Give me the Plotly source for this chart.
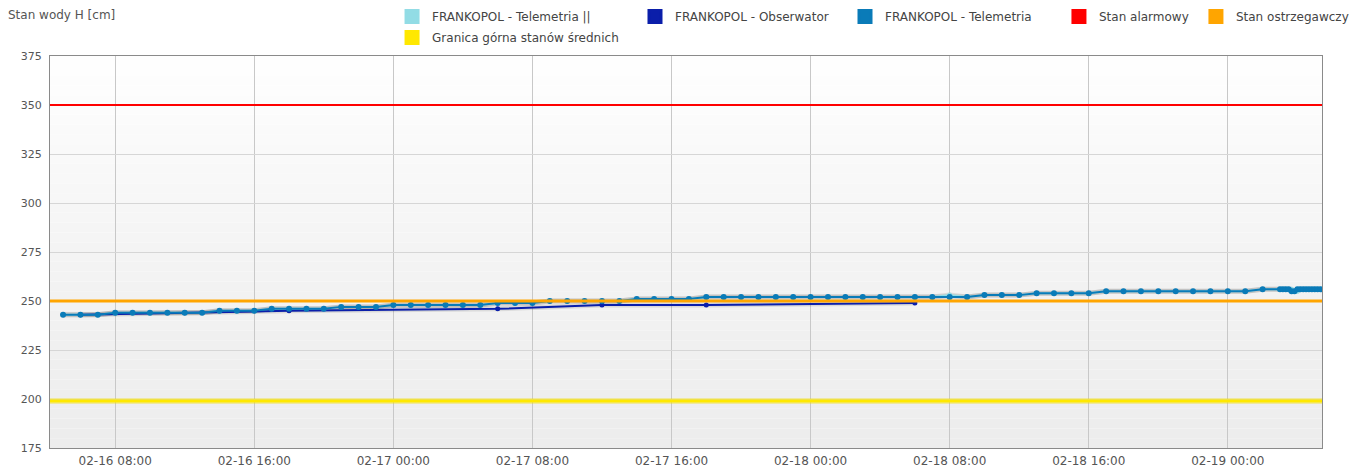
import plotly.graph_objects as go
import pandas as pd

# ---------------- data ----------------
tele_start = "2024-02-16 05:00"
tele_hourly = [243, 243, 243,                      # 05-07
               244, 244, 244, 244, 244, 244,        # 08-13
               245, 245, 245,                       # 14-16
               246, 246, 246, 246,                  # 17-20
               247, 247, 247,                       # 21-23
               248, 248, 248, 248, 248, 248,        # 02-17 00-05
               249, 249, 249,                       # 06-08
               250, 250, 250, 250, 250,             # 09-13
               251, 251, 251, 251,                  # 14-17
               252, 252, 252, 252, 252, 252,        # 18-23
               252, 252, 252, 252, 252, 252, 252,   # 02-18 00-06
               252, 252, 252,                       # 07-09
               253, 253, 253,                       # 10-12
               254, 254, 254, 254,                  # 13-16
               255, 255, 255, 255, 255, 255, 255,   # 17-23
               255, 255,                            # 02-19 00-01
               256, 256]                            # 02-19 02-03
tele_dense_start = "2024-02-19 03:10"
tele_dense = [256, 256, 256, 255, 255, 256, 256, 256, 256, 256, 256, 256, 256, 256]

tele2_hourly = list(tele_hourly)
tele2_hourly[51] = 253          # small visible offset of the second sensor (02-18 08:00)
tele2_dense = [256, 256, 256, 256, 255, 255, 256, 256, 256, 256, 256, 256, 256, 256]

obs_times = ["2024-02-16 06:00", "2024-02-16 12:00", "2024-02-16 18:00",
             "2024-02-17 06:00", "2024-02-17 12:00", "2024-02-17 18:00",
             "2024-02-18 06:00"]
obs_values = [243, 244, 245, 246, 248, 248, 249]

alarm_level = 350
warning_level = 250
mid_upper_level = 199

x_range = ["2024-02-16 04:15", "2024-02-19 05:25"]

names = ["FRANKOPOL - Telemetria ||", "FRANKOPOL - Obserwator", "FRANKOPOL - Telemetria",
         "Stan alarmowy", "Stan ostrzegawczy", "Granica górna stanów średnich"]
colors = ["#92DCE5", "#0A1EAA", "#0A7BB8", "#FF0000", "#FFA500", "#FFE800"]

# legend placement (paper coords): one legend box per entry
legend_x = [0.2689, 0.4599, 0.6250, 0.7932, 0.9009, 0.2689]
legend_y = [1.1378, 1.1378, 1.1378, 1.1378, 1.1378, 1.0842]

# ---------------- build ----------------
tele_t = list(pd.date_range(tele_start, periods=len(tele_hourly), freq="h")) + \
         list(pd.date_range(tele_dense_start, periods=len(tele_dense), freq="10min"))
tele_v = tele_hourly + tele_dense
tele2_v = tele2_hourly + tele2_dense

FONT = "DejaVu Sans"
fig = go.Figure()

# soft shadows
for v, t in [(tele2_v, tele_t), (obs_values, obs_times), (tele_v, tele_t)]:
    fig.add_trace(go.Scatter(x=t, y=v, mode="lines", line=dict(color="rgba(0,0,0,0.10)", width=5),
                             showlegend=False, hoverinfo="skip"))

fig.add_trace(go.Scatter(x=tele_t, y=tele2_v, mode="lines+markers", name=names[0],
                         line=dict(color=colors[0], width=2), marker=dict(size=5, color=colors[0]),
                         showlegend=False))
fig.add_trace(go.Scatter(x=obs_times, y=obs_values, mode="lines+markers", name=names[1],
                         line=dict(color=colors[1], width=2), marker=dict(size=5, color=colors[1]),
                         showlegend=False))
fig.add_trace(go.Scatter(x=tele_t, y=tele_v, mode="lines+markers", name=names[2],
                         line=dict(color=colors[2], width=2), marker=dict(size=6, color=colors[2]),
                         showlegend=False))
fig.add_trace(go.Scatter(x=x_range, y=[alarm_level] * 2, mode="lines", name=names[3],
                         line=dict(color=colors[3], width=2), showlegend=False))
fig.add_trace(go.Scatter(x=x_range, y=[warning_level] * 2, mode="lines", name=names[4],
                         line=dict(color=colors[4], width=3), showlegend=False))
fig.add_trace(go.Scatter(x=x_range, y=[mid_upper_level] * 2, mode="lines", name=names[5],
                         line=dict(color="rgba(240,220,0,0.35)", width=6), showlegend=False,
                         hoverinfo="skip"))
fig.add_trace(go.Scatter(x=x_range, y=[mid_upper_level] * 2, mode="lines", name=names[5],
                         line=dict(color=colors[5], width=3), showlegend=False))

# legend swatches, each in its own legend box
legend_layout = {}
for i, (lab, c) in enumerate(zip(names, colors)):
    key = "legend" if i == 0 else f"legend{i + 1}"
    fig.add_trace(go.Bar(x=[None], y=[None], name=lab,
                         marker=dict(color=c, line=dict(color=c, width=3)),
                         legend=key, showlegend=True))
    legend_layout[key] = dict(orientation="h", x=legend_x[i], xanchor="left",
                              y=legend_y[i], yanchor="top",
                              font=dict(size=12, color="#444444", family=FONT),
                              bgcolor="rgba(0,0,0,0)")

# gradient background
N = 40
for i in range(N):
    f = i / N
    g = int(round(237 + (255 - 237) * (f ** 1.3)))
    fig.add_shape(type="rect", xref="x domain", yref="y domain", x0=0, x1=1,
                  y0=i / N, y1=(i + 1) / N, line_width=0,
                  fillcolor=f"rgb({g},{g},{g})", layer="below")

# the page body has an 8px margin, so the figure is 8px smaller than the window
fig.update_layout(
    width=1349, height=460,
    margin=dict(l=42, r=35, t=48, b=20, autoexpand=False),
    paper_bgcolor="white", plot_bgcolor="rgba(0,0,0,0)",
    font=dict(family=FONT, size=11, color="#555555"),
    showlegend=True,
    annotations=[dict(text="Stan wody H [cm]", xref="paper", yref="paper", x=-0.0346, y=1.1046,
                      xanchor="left", yanchor="middle", showarrow=False,
                      font=dict(size=12, color="#555555", family=FONT))],
    bargap=0,
    **legend_layout,
)
fig.update_xaxes(type="date", range=x_range, tickformat="%m-%d %H:%M",
                 tick0="2024-02-16 00:00", dtick=8 * 3600 * 1000,
                 showgrid=True, gridcolor="#C8C8C8", gridwidth=1,
                 showline=True, linecolor="#8A8A8A", linewidth=1, mirror=True,
                 ticks="", ticklabelstandoff=2, zeroline=False, automargin=False,
                 tickfont=dict(size=12, color="#555555", family=FONT))
fig.update_yaxes(range=[175, 375], tick0=175, dtick=25,
                 showgrid=True, gridcolor="#D6D6D6", gridwidth=1,
                 showline=True, linecolor="#8A8A8A", linewidth=1, mirror=True,
                 ticks="", ticklabelstandoff=5, zeroline=False, automargin=False,
                 tickfont=dict(size=11, color="#555555", family=FONT))

fig.write_html("out.html")
